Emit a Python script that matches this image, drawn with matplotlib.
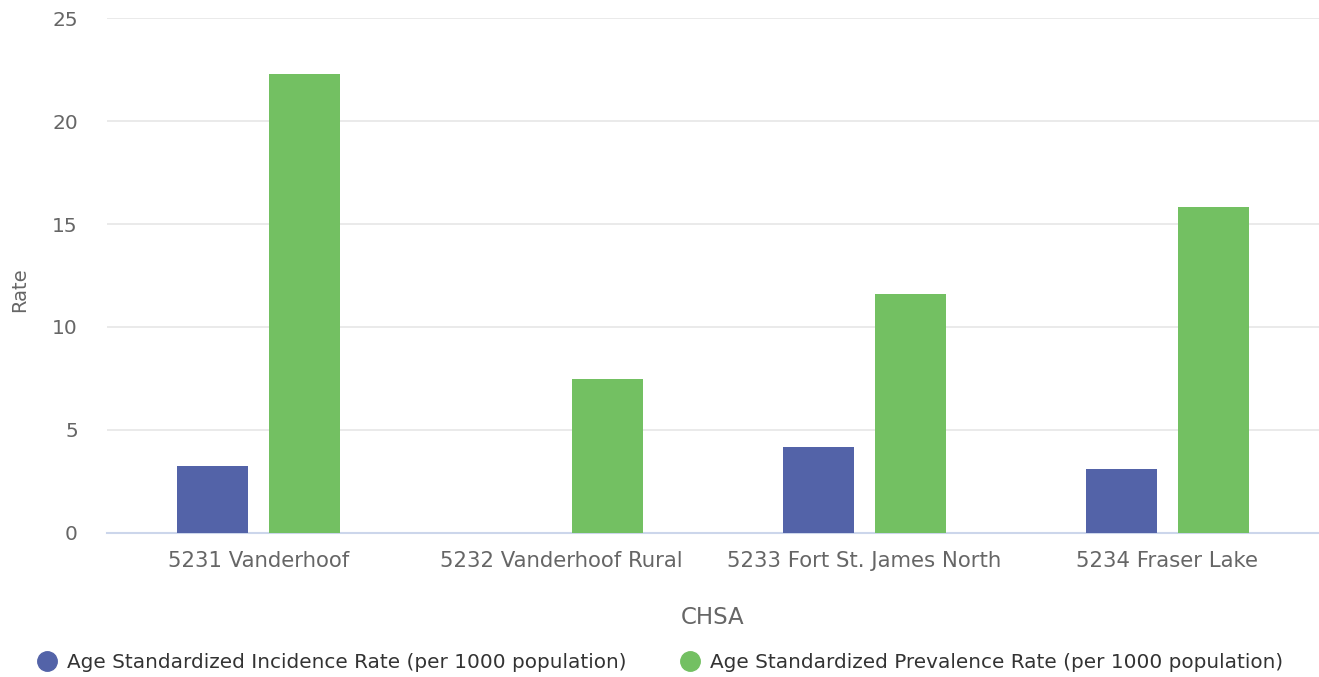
import matplotlib
matplotlib.use("Agg")
import matplotlib.pyplot as plt
from matplotlib.lines import Line2D
import numpy as np

categories = ["5231 Vanderhoof", "5232 Vanderhoof Rural", "5233 Fort St. James North", "5234 Fraser Lake"]
incidence = [3.25, None, 4.17, 3.07]
prevalence = [22.28, 7.47, 11.6, 15.83]
series_names = ["Age Standardized Incidence Rate (per 1000 population)",
                "Age Standardized Prevalence Rate (per 1000 population)"]
yticks = [0, 5, 10, 15, 20, 25]

blue = "#5363a8"
green = "#73c062"

plt.rcParams['font.family'] = ['DejaVu Sans']
fig = plt.figure(figsize=(13.19, 6.77), dpi=100)
ax = fig.add_axes([0.0811, 0.2134, 0.9189, 0.7593])

x = np.arange(len(categories))
w = 0.234
off = 0.151
inc_vals = [np.nan if v is None else v for v in incidence]
ax.bar(x - off, inc_vals, width=w, color=blue, zorder=3)
ax.bar(x + off, prevalence, width=w, color=green, zorder=3)

ax.set_xlim(-0.5, len(categories) - 0.5)
ax.set_ylim(0, 25)
ax.set_yticks(yticks)
ax.set_yticklabels([str(t) for t in yticks])
ax.set_xticks(x)
ax.set_xticklabels(categories)
ax.grid(axis='y', color='#e6e6e6', linewidth=1.2, zorder=0)
for s in ['top', 'right', 'left']:
    ax.spines[s].set_visible(False)
ax.spines['bottom'].set_color('#ccd6eb')
ax.spines['bottom'].set_linewidth(1.5)
ax.tick_params(axis='both', length=0, labelcolor='#666666')
ax.tick_params(axis='x', pad=13, labelsize=15.3)
ax.tick_params(axis='y', pad=21, labelsize=14.5)

fig.text(20/1319, 1 - 290/677, "Rate", rotation=90, ha='center', va='center', color='#666666', fontsize=14)
fig.text(713/1319, 1 - 617/677, "CHSA", ha='center', va='center', color='#666666', fontsize=16.5)

handles = [Line2D([], [], marker='o', linestyle='none', markersize=14, color=blue),
           Line2D([], [], marker='o', linestyle='none', markersize=14, color=green)]
fig.legend(handles, series_names, loc='center', bbox_to_anchor=(659/1319, 1 - 663/677),
           ncol=2, frameon=False, fontsize=14.45, labelcolor='#333333',
           handletextpad=0.4, columnspacing=2.6, handlelength=1.2)

fig.savefig("out.png", dpi=100)
